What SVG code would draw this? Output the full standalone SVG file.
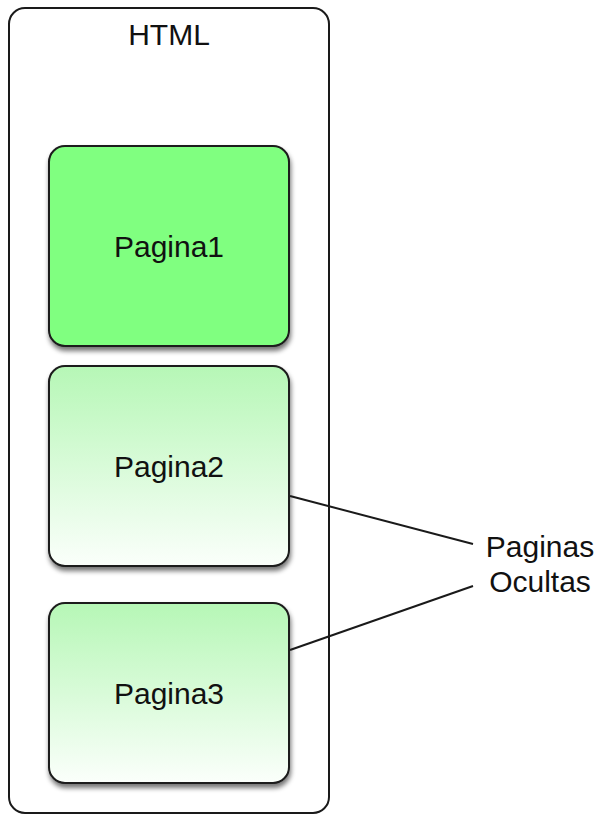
<svg xmlns="http://www.w3.org/2000/svg" width="604" height="816" viewBox="0 0 604 816">
  <defs>
    <linearGradient id="hiddenFill" x1="0" y1="0" x2="0" y2="1">
      <stop offset="0" stop-color="#b6f7b6"/>
      <stop offset="1" stop-color="#fbfffb"/>
    </linearGradient>
    <filter id="shadow" x="-10%" y="-10%" width="125%" height="125%">
      <feGaussianBlur in="SourceAlpha" stdDeviation="2.5"/>
      <feOffset dx="1" dy="4" result="b"/>
      <feComponentTransfer in="b" result="s">
        <feFuncA type="linear" slope="0.55"/>
      </feComponentTransfer>
      <feMerge>
        <feMergeNode in="s"/>
        <feMergeNode in="SourceGraphic"/>
      </feMerge>
    </filter>
    <style>
      .frame { fill: #ffffff; stroke: #1a1a1a; stroke-width: 2; }
      .page { stroke: #1a1a1a; stroke-width: 2; filter: url(#shadow); }
      .label { font-family: "Liberation Sans", Arial, Helvetica, sans-serif; font-size: 30px; fill: #111111; text-anchor: middle; }
      .link { stroke: #1a1a1a; stroke-width: 2; fill: none; }
    </style>
  </defs>

  <g id="html">
    <rect class="frame" x="9" y="8" width="320" height="805" rx="16" ry="16"/>
    <text class="label" x="169" y="45">HTML</text>
  </g>

  <g id="pagina1">
    <rect class="page" x="49" y="146" width="240" height="200" rx="16" ry="16" fill="#80ff80"/>
    <text class="label" x="169" y="257">Pagina1</text>
  </g>

  <g id="pagina2">
    <rect class="page" x="49" y="366" width="240" height="200" rx="16" ry="16" fill="url(#hiddenFill)"/>
    <text class="label" x="169" y="477">Pagina2</text>
  </g>

  <g id="pagina3">
    <rect class="page" x="49" y="603" width="240" height="180" rx="16" ry="16" fill="url(#hiddenFill)"/>
    <text class="label" x="169" y="704">Pagina3</text>
  </g>

  <g id="connectors">
    <line class="link" x1="290" y1="496" x2="473" y2="544"/>
    <line class="link" x1="290" y1="650" x2="473" y2="586"/>
  </g>

  <g id="paginas-ocultas">
    <text class="label" x="540" y="557">Paginas</text>
    <text class="label" x="540" y="592">Ocultas</text>
  </g>
</svg>
